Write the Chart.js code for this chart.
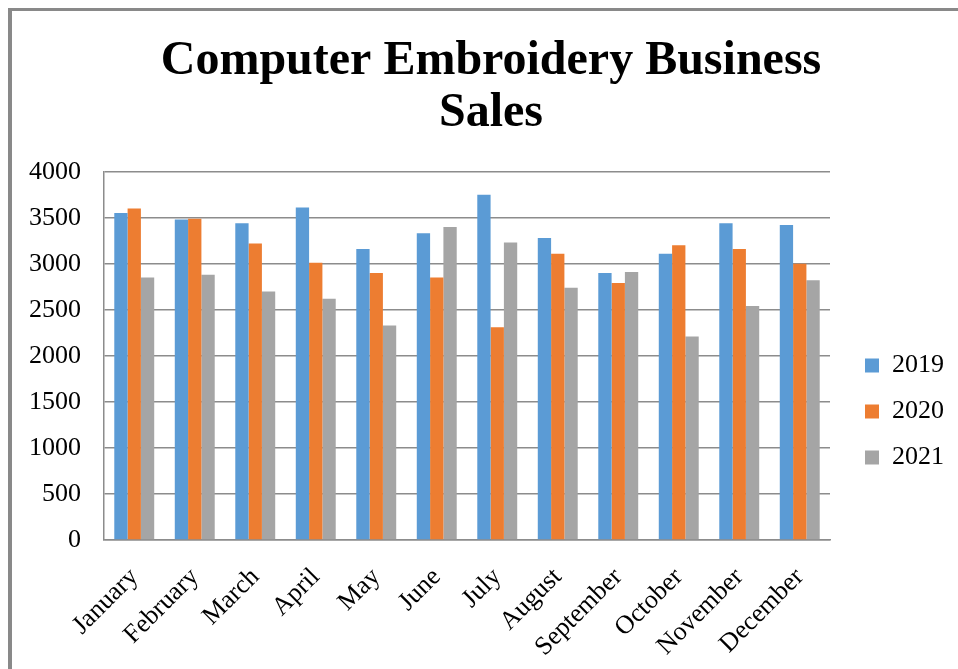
<!DOCTYPE html>
<html>
<head>
<meta charset="utf-8">
<title>Computer Embroidery Business Sales</title>
<script src="https://cdn.jsdelivr.net/npm/chart.js@4.4.1/dist/chart.umd.min.js"></script>
<style>
  html, body { margin: 0; padding: 0; background: #ffffff; }
  #chartCanvas { display: block; }
</style>
</head>
<body>
<canvas id="chartCanvas" width="958" height="669"></canvas>
<script>
// Datos de la gráfica
const months = ["January", "February", "March", "April", "May", "June",
  "July", "August", "September", "October", "November", "December"];
const sales2019 = [3550, 3480, 3440, 3610, 3160, 3330, 3750, 3280, 2900, 3110, 3440, 3420];
const sales2020 = [3600, 3490, 3220, 3010, 2900, 2850, 2310, 3110, 2790, 3200, 3160, 3000];
const sales2021 = [2850, 2880, 2700, 2620, 2330, 3400, 3230, 2740, 2910, 2210, 2540, 2820];
const yTicks = { min: 0, max: 4000, step: 500 };

const serif = "'Liberation Serif', 'Times New Roman', serif";
const gridColor = "#8c8c8c";

// Marco gris del área del gráfico
const framePlugin = {
  id: "frame",
  beforeDraw(chart) {
    const ctx = chart.ctx;
    ctx.save();
    ctx.fillStyle = "#ffffff";
    ctx.fillRect(0, 0, chart.width, chart.height);
    ctx.fillStyle = "#898989";
    ctx.fillRect(8, 8, chart.width - 8, 3);
    ctx.fillRect(8, 8, 4, chart.height - 8);
    ctx.restore();
  }
};

const ctx = document.getElementById("chartCanvas").getContext("2d");

const chart = new Chart(ctx, {
  type: "bar",
  data: {
    labels: months,
    datasets: [
      { label: "2019", data: sales2019, backgroundColor: "#5b9bd5", borderWidth: 0 },
      { label: "2020", data: sales2020, backgroundColor: "#ed7d31", borderWidth: 0 },
      { label: "2021", data: sales2021, backgroundColor: "#a5a5a5", borderWidth: 0 }
    ]
  },
  options: {
    responsive: false,
    animation: false,
    layout: { padding: { left: 28, right: 4, top: 0, bottom: 0 } },
    datasets: {
      bar: { categoryPercentage: 0.66, barPercentage: 1 }
    },
    plugins: {
      title: {
        display: true,
        text: ["Computer Embroidery Business", "Sales"],
        color: "#000000",
        font: { family: serif, size: 48, weight: "bold", lineHeight: 1.08 },
        padding: { top: 36, bottom: 32 }
      },
      legend: {
        display: true,
        position: "right",
        title: { display: true, text: "", font: { size: 10, lineHeight: 1 }, padding: { top: 144, bottom: 0 } },
        labels: {
          color: "#000000",
          font: { family: serif, size: 26 },
          boxWidth: 14,
          boxHeight: 14,
          padding: 20
        }
      },
      tooltip: { enabled: false }
    },
    scales: {
      x: {
        grid: { display: false, drawTicks: false },
        border: { display: true, color: gridColor, width: 1.5 },
        ticks: {
          color: "#000000",
          font: { family: serif, size: 26 },
          minRotation: 45,
          maxRotation: 45,
          padding: 22,
          autoSkip: false
        },
        afterFit(scale) { scale.height = 129; }
      },
      y: {
        min: yTicks.min,
        max: yTicks.max,
        grid: { color: gridColor, lineWidth: 1.5, drawTicks: false },
        border: { display: true, color: gridColor, width: 1.5 },
        ticks: {
          stepSize: yTicks.step,
          color: "#000000",
          font: { family: serif, size: 26 },
          padding: 23,
          callback: (value) => String(value)
        },
        afterFit(scale) { scale.width = 76; }
      },
      // eje vacío: deja hueco entre el área de barras y la leyenda
      gap: {
        type: "linear",
        position: "right",
        display: true,
        grid: { display: false },
        border: { display: false },
        ticks: { display: false },
        afterFit(scale) { scale.width = 15; }
      }
    }
  },
  plugins: [framePlugin]
});
</script>
</body>
</html>
